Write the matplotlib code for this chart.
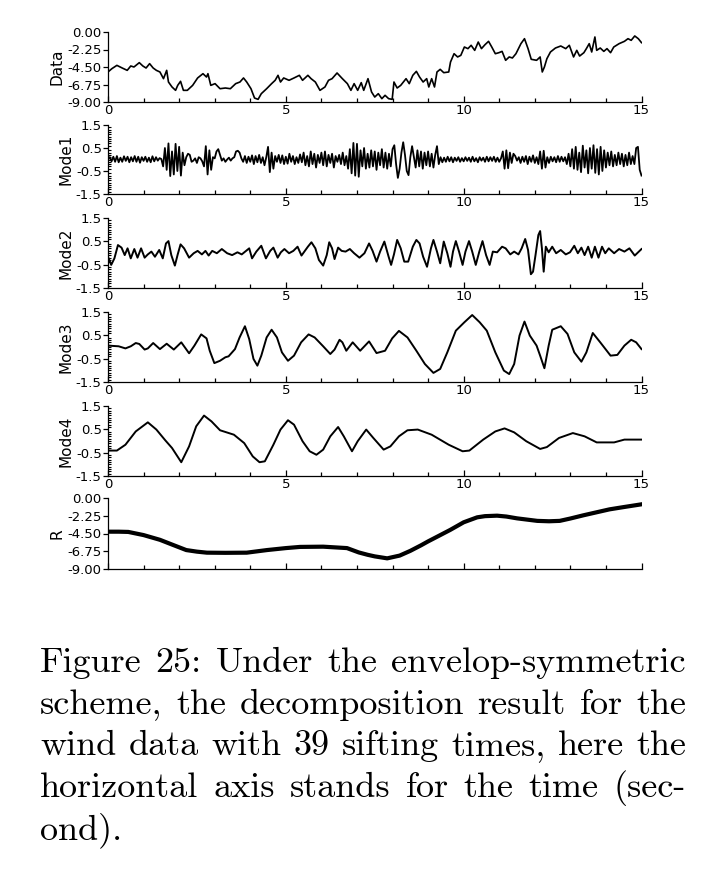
import numpy as np
import matplotlib
matplotlib.use("Agg")
import matplotlib.pyplot as plt
from matplotlib.ticker import MultipleLocator

plt.rcParams["axes.unicode_minus"] = False
plt.rcParams["font.family"] = ["DejaVu Sans"]

# ---------------- data ----------------
data_t = [0.0, 0.11, 0.25, 0.40, 0.54, 0.64, 0.73, 0.88, 0.98, 1.07,
          1.17, 1.27, 1.36, 1.46, 1.56, 1.65, 1.70, 1.80, 1.90, 1.96,
          2.04, 2.12, 2.23, 2.38, 2.52, 2.67, 2.77, 2.81, 2.89, 3.01,
          3.15, 3.30, 3.44, 3.59, 3.71, 3.81, 3.90, 4.02, 4.12, 4.22,
          4.31, 4.46, 4.60, 4.70, 4.78, 4.85, 4.94, 5.09, 5.23, 5.38,
          5.47, 5.62, 5.71, 5.83, 5.96, 6.10, 6.20, 6.30, 6.44, 6.59,
          6.73, 6.83, 6.92, 7.02, 7.12, 7.19, 7.31, 7.41, 7.50, 7.60,
          7.70, 7.79, 7.89, 7.99, 8.04, 8.13, 8.23, 8.38, 8.47, 8.57,
          8.67, 8.76, 8.86, 8.96, 9.02, 9.10, 9.18, 9.25, 9.34, 9.44,
          9.58, 9.63, 9.73, 9.83, 9.92, 10.02, 10.12, 10.21, 10.31, 10.41,
          10.50, 10.60, 10.70, 10.79, 10.89, 10.99, 11.08, 11.18, 11.28, 11.37,
          11.47, 11.61, 11.71, 11.81, 11.90, 12.05, 12.15, 12.21, 12.27, 12.34,
          12.44, 12.58, 12.73, 12.87, 12.97, 13.09, 13.18, 13.26, 13.38, 13.45,
          13.53, 13.60, 13.69, 13.74, 13.84, 13.94, 14.03, 14.13, 14.22, 14.37,
          14.52, 14.62, 14.71, 14.81, 14.91, 15.0]
data_v = [-5.14, -4.71, -4.29, -4.63, -4.93, -4.37, -4.50, -3.94, -4.37, -4.63,
          -4.07, -4.63, -4.93, -5.14, -6.00, -4.93, -6.43, -7.07, -7.50, -6.86,
          -6.34, -7.50, -7.50, -6.86, -5.91, -5.36, -5.79, -5.36, -6.86, -6.64,
          -7.29, -7.20, -7.29, -6.64, -6.43, -5.91, -6.43, -7.29, -8.49, -8.66,
          -7.93, -7.29, -6.64, -6.21, -5.57, -6.43, -5.91, -6.21, -5.91, -5.57,
          -6.21, -5.57, -6.00, -6.43, -7.50, -7.07, -6.21, -6.00, -5.27, -6.00,
          -6.64, -7.50, -6.64, -7.50, -6.51, -7.50, -6.00, -7.71, -8.36, -7.93,
          -8.57, -8.14, -8.57, -8.66, -6.43, -7.20, -6.86, -6.00, -6.64, -5.57,
          -5.06, -5.79, -6.43, -6.00, -7.07, -6.00, -7.07, -5.14, -4.80, -5.23,
          -5.14, -3.86, -2.79, -3.21, -3.00, -1.93, -2.14, -1.71, -2.36, -1.29,
          -2.14, -1.63, -1.20, -1.93, -2.79, -2.66, -2.49, -3.64, -3.21, -3.34,
          -2.79, -1.50, -0.86, -2.14, -3.51, -3.64, -3.21, -5.14, -4.50, -3.43,
          -2.57, -2.06, -1.80, -2.14, -1.71, -3.21, -2.36, -3.09, -2.66, -2.14,
          -1.50, -2.57, -0.64, -2.36, -2.06, -2.49, -2.14, -2.66, -1.93, -1.50,
          -1.20, -0.86, -1.07, -0.51, -0.86, -1.37]

mode1_v = [0.00, 0.10, -0.08, 0.12, -0.10, 0.15, -0.12, 0.08, -0.10, 0.14, -0.06, 0.12, -0.12, 0.10, -0.08, 0.15, -0.10, 0.12, -0.14, 0.10,
           -0.06, 0.12, -0.10, 0.08, -0.12, 0.14, -0.08, 0.10, -0.05, 0.06, 0.02, -0.30, 0.50, -0.45, 0.70, -0.72, 0.35, -0.65, 0.68, -0.50,
           0.55, -0.70, 0.30, -0.25, 0.10, 0.25, 0.20, -0.10, -0.05, 0.05, -0.15, 0.10, 0.05, -0.08, -0.30, 0.58, -0.65, 0.40, -0.45, 0.10,
           0.05, 0.35, 0.45, 0.20, -0.05, 0.05, -0.10, 0.00, 0.08, -0.05, 0.05, 0.10, 0.35, 0.38, 0.30, 0.05, -0.10, 0.15, -0.15, 0.12,
           -0.10, 0.18, -0.20, 0.15, -0.12, 0.20, -0.15, 0.10, -0.25, 0.10, 0.55, -0.55, 0.30, -0.40, 0.15, -0.10, 0.20, -0.15, 0.18, -0.20,
           0.12, -0.18, 0.25, -0.10, 0.15, -0.20, 0.10, -0.15, 0.22, -0.12, 0.30, -0.25, 0.15, -0.30, 0.35, -0.20, 0.25, -0.35, 0.20, -0.15,
           0.30, -0.25, 0.35, -0.30, 0.20, -0.15, 0.25, -0.35, 0.15, -0.10, 0.20, -0.20, 0.30, -0.25, 0.15, -0.40, 0.45, -0.60, 0.72, -0.70,
           0.68, -0.75, 0.40, -0.30, 0.50, -0.40, 0.25, -0.35, 0.40, -0.30, 0.35, -0.45, 0.30, -0.25, 0.45, -0.35, 0.30, -0.40, 0.25, -0.30,
           0.45, 0.62, -0.20, -0.80, -0.40, 0.30, 0.75, 0.20, -0.50, -0.68, 0.10, 0.58, 0.10, -0.35, 0.40, -0.30, 0.35, -0.40, 0.30, -0.25,
           0.35, -0.30, 0.25, -0.35, 0.20, 0.58, -0.20, 0.10, -0.12, 0.08, -0.10, 0.12, -0.08, 0.10, -0.12, 0.08, -0.06, 0.10, -0.10, 0.06,
           -0.08, 0.10, -0.06, 0.08, -0.10, 0.12, -0.08, 0.06, -0.12, 0.10, -0.05, 0.08, -0.10, 0.12, -0.08, 0.10, -0.06, 0.12, -0.10, 0.08,
           -0.10, 0.05, 0.35, -0.40, 0.40, -0.38, 0.30, -0.15, 0.25, 0.15, -0.05, 0.10, -0.15, 0.12, -0.10, 0.15, -0.20, 0.12, -0.10, 0.18,
           -0.15, 0.10, -0.20, 0.35, -0.40, 0.38, -0.35, 0.10, -0.15, 0.12, -0.08, 0.10, -0.12, 0.15, -0.10, 0.12, -0.08, 0.10, -0.20, 0.25,
           -0.30, 0.45, -0.40, 0.55, -0.45, 0.30, -0.55, 0.60, -0.35, 0.40, -0.60, 0.50, -0.40, 0.62, -0.58, 0.45, -0.65, 0.55, -0.50, 0.40,
           -0.35, 0.30, -0.25, 0.35, -0.30, 0.20, -0.25, 0.30, -0.20, 0.25, -0.30, 0.20, -0.25, 0.30, -0.20, 0.15, -0.20, 0.50, 0.55, -0.45,
           -0.70]
mode1_t = np.linspace(0, 15, len(mode1_v))

mode2_t = [0.0, 0.09, 0.18, 0.28, 0.38, 0.47, 0.55, 0.64, 0.74, 0.83,
           0.93, 1.03, 1.12, 1.22, 1.32, 1.44, 1.54, 1.63, 1.70, 1.78,
           1.88, 1.96, 2.04, 2.14, 2.28, 2.41, 2.52, 2.64, 2.74, 2.83,
           2.93, 3.06, 3.20, 3.35, 3.49, 3.64, 3.76, 3.88, 3.97, 4.05,
           4.17, 4.31, 4.44, 4.56, 4.65, 4.77, 4.86, 4.96, 5.09, 5.21,
           5.33, 5.44, 5.62, 5.72, 5.83, 5.93, 6.05, 6.15, 6.22, 6.30,
           6.37, 6.47, 6.57, 6.68, 6.80, 6.92, 7.07, 7.21, 7.34, 7.44,
           7.55, 7.65, 7.77, 7.89, 7.96, 8.04, 8.13, 8.23, 8.33, 8.44,
           8.57, 8.67, 8.76, 8.86, 8.97, 9.08, 9.15, 9.25, 9.34, 9.44,
           9.54, 9.63, 9.70, 9.78, 9.87, 9.97, 10.05, 10.15, 10.24, 10.34,
           10.44, 10.53, 10.63, 10.73, 10.82, 10.94, 11.08, 11.18, 11.31, 11.42,
           11.54, 11.63, 11.73, 11.81, 11.89, 11.95, 12.02, 12.10, 12.15, 12.20,
           12.25, 12.31, 12.39, 12.49, 12.60, 12.73, 12.87, 12.99, 13.11, 13.21,
           13.31, 13.40, 13.50, 13.60, 13.69, 13.79, 13.89, 13.98, 14.08, 14.23,
           14.37, 14.52, 14.66, 14.81, 15.0]
mode2_v = [-0.16, -0.51, -0.23, 0.34, 0.23, -0.09, 0.20, -0.23, 0.17, -0.20,
           0.20, -0.20, -0.06, 0.06, -0.16, 0.13, -0.23, 0.41, 0.51, -0.09,
           -0.54, -0.06, 0.37, 0.20, -0.20, -0.01, 0.09, -0.06, 0.09, -0.11,
           0.09, -0.01, 0.17, -0.01, -0.09, 0.03, -0.06, 0.09, 0.20, -0.23,
           0.06, 0.31, -0.23, 0.09, 0.23, -0.20, 0.03, 0.17, -0.01, 0.09,
           0.27, -0.11, 0.27, 0.46, 0.20, -0.30, -0.54, -0.09, 0.46, 0.20,
           -0.26, 0.23, 0.09, 0.06, 0.17, -0.01, -0.20, -0.01, 0.41, 0.09,
           -0.37, 0.06, 0.49, -0.16, -0.51, -0.06, 0.56, 0.20, -0.37, -0.37,
           0.27, 0.56, 0.41, -0.16, -0.59, 0.20, 0.56, 0.06, -0.44, 0.49,
           -0.01, -0.59, 0.06, 0.51, 0.06, -0.51, 0.06, 0.51, 0.06, -0.51,
           0.06, 0.51, -0.09, -0.51, 0.06, 0.03, 0.27, 0.20, -0.06, 0.06,
           -0.06, 0.20, 0.60, 0.13, -0.91, -0.80, -0.09, 0.77, 0.94, 0.20,
           -0.80, 0.27, 0.03, 0.27, -0.01, 0.13, -0.06, 0.03, 0.31, -0.01,
           0.23, -0.09, 0.27, -0.20, 0.27, -0.20, 0.27, -0.01, 0.20, -0.01,
           0.17, 0.06, 0.20, -0.11, 0.17]

mode3_t = [0.0, 0.30, 0.49, 0.64, 0.78, 0.88, 1.03, 1.12, 1.27, 1.46,
           1.65, 1.85, 2.06, 2.28, 2.43, 2.62, 2.77, 2.86, 2.99, 3.15,
           3.30, 3.39, 3.57, 3.70, 3.85, 3.97, 4.09, 4.20, 4.31, 4.46,
           4.60, 4.75, 4.89, 5.06, 5.23, 5.43, 5.64, 5.81, 6.05, 6.25,
           6.37, 6.51, 6.59, 6.70, 6.88, 7.09, 7.34, 7.55, 7.79, 7.99,
           8.18, 8.42, 8.67, 8.91, 9.15, 9.34, 9.54, 9.78, 10.02, 10.24,
           10.45, 10.65, 10.89, 11.13, 11.28, 11.42, 11.57, 11.71, 11.86, 12.05,
           12.15, 12.27, 12.39, 12.49, 12.73, 12.92, 13.11, 13.31, 13.45, 13.63,
           13.84, 14.13, 14.32, 14.52, 14.71, 14.85, 15.0]
mode3_v = [0.06, 0.03, -0.06, 0.03, 0.17, 0.13, -0.11, -0.06, 0.17, -0.09,
           0.14, -0.11, 0.20, -0.27, 0.06, 0.54, 0.37, -0.16, -0.69, -0.59,
           -0.44, -0.40, -0.09, 0.41, 0.89, 0.34, -0.51, -0.80, -0.37, 0.41,
           0.74, 0.41, -0.23, -0.59, -0.37, 0.20, 0.54, 0.41, 0.03, -0.30,
           -0.11, 0.31, 0.20, -0.16, 0.20, -0.16, 0.24, -0.26, -0.16, 0.37,
           0.69, 0.41, -0.16, -0.73, -1.11, -0.94, -0.23, 0.70, 1.06, 1.37,
           1.06, 0.70, -0.23, -1.01, -1.16, -0.73, 0.49, 1.09, 0.49, 0.06,
           -0.37, -0.91, 0.06, 0.74, 0.89, 0.56, -0.23, -0.63, -0.23, 0.60,
           0.20, -0.37, -0.34, 0.06, 0.31, 0.20, -0.09]

mode4_t = [0.0, 0.25, 0.49, 0.78, 1.12, 1.36, 1.61, 1.80, 2.06, 2.28,
           2.48, 2.70, 2.91, 3.15, 3.54, 3.83, 4.07, 4.26, 4.41, 4.65,
           4.85, 5.06, 5.23, 5.47, 5.67, 5.86, 6.05, 6.25, 6.47, 6.63,
           6.86, 7.02, 7.26, 7.46, 7.75, 7.94, 8.18, 8.42, 8.71, 9.10,
           9.58, 9.97, 10.16, 10.55, 10.89, 11.15, 11.42, 11.76, 12.15, 12.34,
           12.68, 13.07, 13.40, 13.74, 14.23, 14.52, 15.0]
mode4_v = [-0.41, -0.41, -0.16, 0.41, 0.80, 0.49, 0.03, -0.30, -0.91, -0.23,
           0.63, 1.09, 0.84, 0.46, 0.27, -0.09, -0.66, -0.91, -0.87, -0.16,
           0.49, 0.89, 0.70, -0.01, -0.44, -0.59, -0.37, 0.20, 0.60, 0.20,
           -0.44, -0.01, 0.49, 0.13, -0.37, -0.23, 0.20, 0.46, 0.49, 0.27,
           -0.16, -0.44, -0.41, 0.06, 0.41, 0.54, 0.37, -0.01, -0.34, -0.26,
           0.13, 0.34, 0.20, -0.06, -0.06, 0.06, 0.06]

r_t = [0.0, 0.3, 0.57, 1.0, 1.46, 1.8, 2.2, 2.5, 2.78, 3.3, 3.9, 4.47, 5.0,
       5.4, 6.05, 6.72, 7.05, 7.3, 7.5, 7.85, 8.2, 8.5, 8.8, 9.0, 9.3, 9.62,
       10.0, 10.38, 10.6, 10.94, 11.2, 11.5, 12.07, 12.4, 12.7, 13.0, 13.36,
       13.7, 14.1, 14.5, 15.0]
r_v = [-4.27, -4.27, -4.3, -4.7, -5.3, -5.9, -6.6, -6.8, -6.93, -6.95, -6.93,
       -6.6, -6.35, -6.2, -6.17, -6.35, -6.9, -7.2, -7.4, -7.65, -7.3, -6.7,
       -6.0, -5.5, -4.8, -4.05, -3.08, -2.45, -2.3, -2.24, -2.35, -2.58, -2.9,
       -2.95, -2.9, -2.6, -2.2, -1.85, -1.44, -1.15, -0.8]

panel_names = ["Data", "Mode1", "Mode2", "Mode3", "Mode4", "R"]
x_ticks = [0, 5, 10, 15]
x_tick_labels = ["0", "5", "10", "15"]
level_ticks = [0.0, -2.25, -4.5, -6.75, -9.0]
level_labels = ["0.00", "-2.25", "-4.50", "-6.75", "-9.00"]
mode_ticks = [1.5, 0.5, -0.5, -1.5]
mode_labels = ["1.5", "0.5", "-0.5", "-1.5"]

caption_lines = [
    "Figure 25: Under the envelop-symmetric",
    "scheme, the decomposition result for the",
    "wind data with 39 sifting times, here the",
    "horizontal axis stands for the time (sec-",
    "ond).",
]

# ---------------- layout ----------------
W, H = 714, 877
fig = plt.figure(figsize=(W / 100, H / 100), dpi=100)
panels_px = [(32, 102), (125, 194), (218, 288), (312, 382), (406, 476), (498, 569)]
left_px, right_px = 108, 641.5

series = [(data_t, data_v), (mode1_t, mode1_v), (mode2_t, mode2_v),
          (mode3_t, mode3_v), (mode4_t, mode4_v), (r_t, r_v)]
lws = [1.2, 1.3, 1.4, 1.4, 1.4, 3.0]

for k, (name, (t, v)) in enumerate(zip(panel_names, series)):
    top, bot = panels_px[k]
    ax = fig.add_axes([left_px / W, 1 - bot / H, (right_px - left_px) / W, (bot - top) / H])
    ax.plot(t, v, color="black", lw=lws[k], solid_joinstyle="round")
    ax.set_xlim(0, 15)
    for s in ["top", "right"]:
        ax.spines[s].set_visible(False)
    for s in ["left", "bottom"]:
        ax.spines[s].set_linewidth(0.9)
    ax.set_xticks(x_ticks, x_tick_labels)
    ax.xaxis.set_minor_locator(MultipleLocator(1))
    ax.tick_params(axis="x", which="major", direction="in", length=4, width=0.9,
                   pad=1.5, labelsize=9.5)
    ax.tick_params(axis="x", which="minor", direction="in", length=3, width=0.9)
    if k == len(panel_names) - 1:
        ax.tick_params(axis="x", labelbottom=False)
    if name in ("Data", "R"):
        ax.set_ylim(-9, 0)
        ax.set_yticks(level_ticks, level_labels)
    else:
        ax.set_ylim(-1.5, 1.5)
        ax.set_yticks(mode_ticks, mode_labels)
        ax.yaxis.set_minor_locator(MultipleLocator(0.1))
        ax.tick_params(axis="y", which="minor", direction="in", length=2.2, width=0.8)
    ax.tick_params(axis="y", which="major", direction="out", length=3.5, width=0.9,
                   pad=1, labelsize=9.5)
    ax.set_ylabel(name, fontsize=11, labelpad=2)
    ax.patch.set_alpha(0)

# ---------------- caption (justified) ----------------
fig.canvas.draw()
renderer = fig.canvas.get_renderer()
fs = 26
x0, x1 = 40, 686
baselines = [672, 714, 755, 797, 839]
for i, line in enumerate(caption_lines):
    y = 1 - baselines[i] / H
    words = line.split(" ")
    texts = [fig.text(0, y, w, fontsize=fs, family="cmr10", va="baseline", ha="left")
             for w in words]
    widths = [tx.get_window_extent(renderer).width for tx in texts]
    if i < len(caption_lines) - 1 and len(words) > 1:
        gap = (x1 - x0 - sum(widths)) / (len(words) - 1)
    else:
        gap = fs * 100 / 72 * 0.333
    x = x0
    for tx, wd in zip(texts, widths):
        tx.set_x(x / W)
        x += wd + gap

fig.savefig("out.png", dpi=100)
